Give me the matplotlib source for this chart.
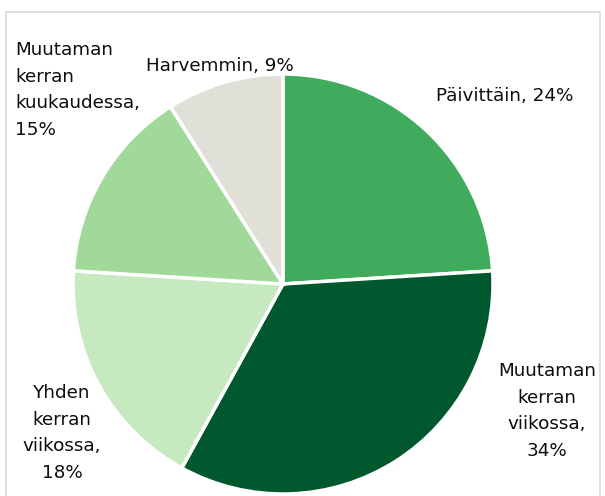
import matplotlib.pyplot as plt
from matplotlib.patches import Rectangle

labels = ["Päivittäin", "Muutaman\nkerran\nviikossa", "Yhden\nkerran\nviikossa",
          "Muutaman\nkerran\nkuukaudessa", "Harvemmin"]
shares = [24, 34, 18, 15, 9]
colors = ["#41AB5D", "#00582F", "#C7E9C0", "#A1D99B", "#E0E0D9"]

W, H = 605, 496
fig = plt.figure(figsize=(W / 100, H / 100), dpi=100)
ax = fig.add_axes([0, 0, 1, 1])

ax.pie(shares, colors=colors, startangle=90, counterclock=False,
       center=(283, H - 284), radius=210,
       wedgeprops=dict(edgecolor="white", linewidth=2.5))

# pixel-like data coordinates (pie resets the limits, so set them after)
ax.set_xlim(0, W)
ax.set_ylim(0, H)
ax.set_aspect("equal")
ax.axis("off")

# chart frame
ax.add_patch(Rectangle((6, -10), 594, H - 12 + 10, fill=False,
                       edgecolor="#D9D9D9", linewidth=1.2))

# label positions in pixels (x, y from top), alignment
spots = [(505, 96, "center"), (547, 411, "center"), (62, 433, "center"),
         (15, 90, "left"), (220, 66, "center")]
for lab, val, (px, py, ha) in zip(labels, shares, spots):
    txt = f"{lab}, {val}%"
    if "\n" in lab:
        txt = f"{lab},\n{val}%"
    ax.text(px, H - py, txt, ha=ha, va="center", fontsize=13.2,
            color="#0D0D0D", linespacing=1.62, multialignment=ha)

fig.savefig("out.png", dpi=100)
